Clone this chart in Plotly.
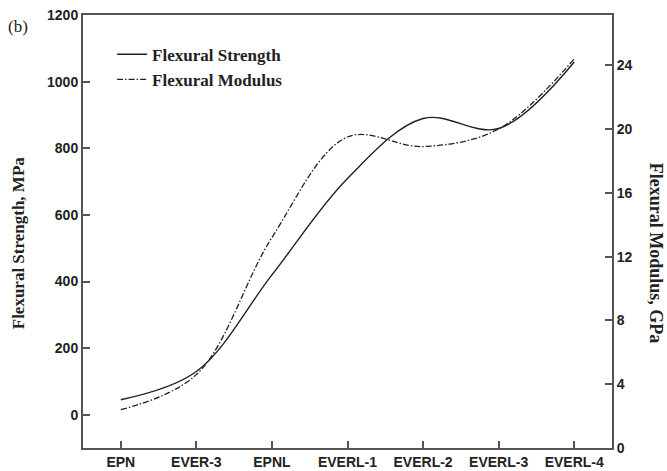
import plotly.graph_objects as go

categories = ["EPN", "EVER-3", "EPNL", "EVERL-1", "EVERL-2", "EVERL-3", "EVERL-4"]
strength_mpa = [45, 130, 420, 710, 890, 860, 1060]
modulus_gpa = [2.4, 4.6, 13.2, 19.5, 18.9, 20.0, 24.4]
left_ticks = [0, 200, 400, 600, 800, 1000, 1200]
right_ticks = [0, 4, 8, 12, 16, 20, 24]

x_idx = list(range(len(categories)))
ink = "#222222"
axis_col = "#555555"
serif = "Liberation Serif, Times New Roman, serif"
sans = "Liberation Sans, Arial, sans-serif"

fig = go.Figure()
fig.add_trace(go.Scatter(
    x=x_idx, y=strength_mpa, name="Flexural Strength", mode="lines",
    line=dict(color=ink, width=1.4, shape="spline", smoothing=1.0),
))
fig.add_trace(go.Scatter(
    x=x_idx, y=modulus_gpa, name="Flexural Modulus", mode="lines", yaxis="y2",
    line=dict(color=ink, width=1.3, shape="spline", smoothing=1.0, dash="6px,2px,1.5px,2px"),
))

fig.update_layout(
    width=667, height=471,
    margin=dict(l=83, r=55, t=15, b=23, autoexpand=False),
    paper_bgcolor="white", plot_bgcolor="white",
    showlegend=True,
    legend=dict(
        x=0.055, y=0.95, xanchor="left", yanchor="top",
        bgcolor="rgba(0,0,0,0)", borderwidth=0,
        font=dict(family=serif, size=17, color=ink, weight="bold"),
        tracegroupgap=0, itemwidth=30,
    ),
    xaxis=dict(
        range=[-0.5, 6.5], tickmode="array", tickvals=x_idx, ticktext=categories,
        showline=True, linecolor=axis_col, linewidth=2, mirror=True,
        ticks="inside", ticklen=7, tickwidth=1.5, tickcolor=axis_col,
        showgrid=False, zeroline=False,
        tickfont=dict(family=sans, size=14, color=ink, weight="bold"),
        automargin=False,
    ),
    yaxis=dict(
        range=[-100, 1201], tickmode="array", tickvals=left_ticks,
        showline=True, linecolor=axis_col, linewidth=2,
        ticks="inside", ticklen=7, tickwidth=1.5, tickcolor=axis_col,
        showgrid=False, zeroline=False,
        tickfont=dict(family=sans, size=14, color=ink, weight="bold"),
        automargin=False,
    ),
    yaxis2=dict(
        range=[0, 27.15], tickmode="array", tickvals=right_ticks,
        overlaying="y", side="right",
        showline=True, linecolor=axis_col, linewidth=2,
        ticks="inside", ticklen=7, tickwidth=1.5, tickcolor=axis_col,
        showgrid=False, zeroline=False,
        tickfont=dict(family=sans, size=14, color=ink, weight="bold"),
        automargin=False,
    ),
    annotations=[
        dict(text="Flexural Strength, MPa", xref="paper", yref="paper",
             x=-0.123, y=0.475, textangle=-90, showarrow=False,
             xanchor="center", yanchor="middle",
             font=dict(family=serif, size=17, color=ink, weight="bold")),
        dict(text="Flexural Modulus, GPa", xref="paper", yref="paper",
             x=1.082, y=0.45, textangle=90, showarrow=False,
             xanchor="center", yanchor="middle",
             font=dict(family=serif, size=18, color=ink, weight="bold")),
        dict(text="(b)", xref="paper", yref="paper",
             x=-0.145, y=1.0, showarrow=False, xanchor="left", yanchor="top",
             font=dict(family=serif, size=17, color=ink)),
    ],
)

fig.write_html(
    "out.html",
    config={"displayModeBar": False},
    post_script="document.body.style.margin='0';document.body.style.padding='0';",
)
